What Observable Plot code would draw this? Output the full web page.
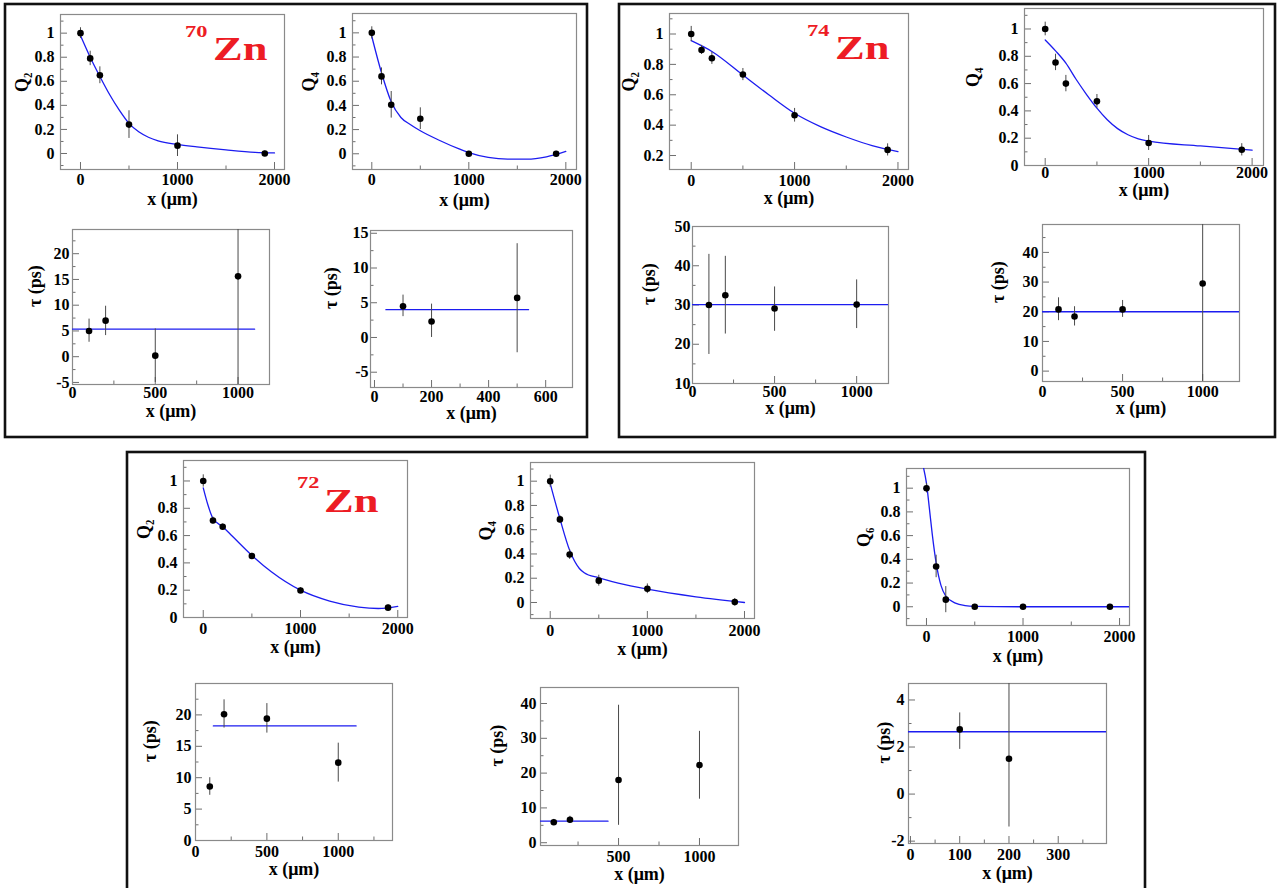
<!DOCTYPE html>
<html><head><meta charset="utf-8">
<script src="https://cdn.jsdelivr.net/npm/d3@7"></script>
<script src="https://cdn.jsdelivr.net/npm/@observablehq/plot@0.6"></script>
<style>
body{margin:0;background:#fff;width:1277px;height:888px;overflow:hidden;position:relative;font-family:"Liberation Serif",serif;}
.panel{position:absolute;}
.panel svg{font-size:16px;}
.panel svg text, #overlay text{font-family:"Liberation Serif","Times New Roman",serif !important;font-weight:bold;}
#overlay{position:absolute;left:0;top:0;pointer-events:none;}
</style></head><body>
<script>
// ---------------- data ----------------
const qX = [0, 100, 200, 500, 1000, 1900];
const tauX = [100, 200, 500, 1000];
const tauX3 = [100, 200, 500];
const tauX2 = [100, 200];

// 70Zn
const zn70_Q2 = [1.00, 0.79, 0.65, 0.24, 0.065, 0.00];
const zn70_Q2_err = [0.045, 0.06, 0.07, 0.115, 0.09, 0.02];
const zn70_Q2_fitX = [0, 100, 200, 300, 400, 500, 600, 700, 800, 1000, 1200, 1500, 1800, 2000];
const zn70_Q2_fitY = [0.98, 0.80, 0.64, 0.49, 0.36, 0.25, 0.18, 0.135, 0.105, 0.075, 0.055, 0.03, 0.01, 0.005];
const zn70_Q4 = [1.00, 0.64, 0.405, 0.29, 0.00, 0.00];
const zn70_Q4_err = [0.05, 0.07, 0.11, 0.09, 0.02, 0.02];
const zn70_Q4_fitX = [0, 100, 200, 300, 400, 500, 700, 900, 1000, 1200, 1400, 1600, 1800, 2000];
const zn70_Q4_fitY = [0.97, 0.67, 0.43, 0.30, 0.24, 0.19, 0.11, 0.04, 0.01, -0.03, -0.045, -0.045, -0.025, 0.02];
const zn70_tauQ2 = [5.0, 7.0, 0.2, 15.6];
const zn70_tauQ2_lo = [2.8, 4.1, -5.0, -6.0];
const zn70_tauQ2_hi = [7.3, 9.8, 5.4, 30.0];
const zn70_tauQ2_fitX = [0, 1100];
const zn70_tauQ2_fitY = [5.35, 5.35];
const zn70_tauQ4 = [4.5, 2.3, 5.7];
const zn70_tauQ4_lo = [3.0, 0.0, -2.2];
const zn70_tauQ4_hi = [6.1, 4.8, 13.5];
const zn70_tauQ4_fitX = [40, 540];
const zn70_tauQ4_fitY = [4.0, 4.0];

// 74Zn
const zn74_Q2 = [1.00, 0.895, 0.84, 0.733, 0.465, 0.237];
const zn74_Q2_err = [0.05, 0.03, 0.04, 0.04, 0.045, 0.04];
const zn74_Q2_fitX = [0, 200, 500, 750, 1000, 1250, 1500, 1750, 2000];
const zn74_Q2_fitY = [0.956, 0.885, 0.73, 0.60, 0.478, 0.39, 0.322, 0.265, 0.226];
const zn74_Q4 = [1.00, 0.755, 0.60, 0.47, 0.165, 0.115];
const zn74_Q4_err = [0.05, 0.06, 0.06, 0.05, 0.055, 0.045];
const zn74_Q4_fitX = [0, 100, 200, 300, 400, 500, 600, 700, 800, 900, 1000, 1500, 2000];
const zn74_Q4_fitY = [0.92, 0.84, 0.75, 0.63, 0.52, 0.42, 0.335, 0.27, 0.225, 0.195, 0.178, 0.143, 0.112];
const zn74_tauQ2 = [30.0, 32.5, 29.1, 30.1];
const zn74_tauQ2_lo = [17.4, 22.6, 23.3, 24.0];
const zn74_tauQ2_hi = [42.9, 42.4, 34.6, 36.4];
const zn74_tauQ2_fitX = [0, 1200];
const zn74_tauQ2_fitY = [30.1, 30.1];
const zn74_tauQ4 = [20.8, 18.4, 20.8, 29.5];
const zn74_tauQ4_lo = [17.0, 15.2, 18.1, -5.0];
const zn74_tauQ4_hi = [24.7, 21.7, 23.8, 55.0];
const zn74_tauQ4_fitX = [0, 1230];
const zn74_tauQ4_fitY = [20.0, 20.0];

// 72Zn
const zn72_Q2 = [1.00, 0.71, 0.665, 0.45, 0.198, 0.072];
const zn72_Q2_err = [0.045, 0.025, 0.02, 0.02, 0.02, 0.02];
const zn72_Q2_fitX = [0, 50, 100, 200, 300, 500, 700, 1000, 1300, 1600, 1800, 2000];
const zn72_Q2_fitY = [0.95, 0.82, 0.725, 0.665, 0.595, 0.455, 0.335, 0.20, 0.12, 0.076, 0.066, 0.082];
const zn72_Q4 = [1.00, 0.685, 0.395, 0.18, 0.113, 0.003];
const zn72_Q4_err = [0.05, 0.03, 0.04, 0.045, 0.04, 0.03];
const zn72_Q4_fitX = [0, 100, 200, 300, 350, 500, 700, 1000, 1500, 2000];
const zn72_Q4_fitY = [0.98, 0.69, 0.43, 0.28, 0.245, 0.203, 0.16, 0.11, 0.047, 0.0];
const zn72_Q6 = [1.00, 0.34, 0.06, 0.0, 0.0, 0.0];
const zn72_Q6_err = [0.04, 0.095, 0.11, 0.02, 0.02, 0.02];
const zn72_Q6_fitX = [-30, 0, 30, 60, 100, 150, 200, 300, 400, 500, 1000, 2150];
const zn72_Q6_fitY = [1.17, 1.04, 0.83, 0.61, 0.37, 0.18, 0.09, 0.03, 0.01, 0.004, 0.0, 0.0];
const zn72_tauQ2 = [8.6, 20.1, 19.4, 12.4];
const zn72_tauQ2_lo = [7.2, 17.9, 17.1, 9.3];
const zn72_tauQ2_hi = [10.0, 22.4, 21.8, 15.5];
const zn72_tauQ2_fitX = [125, 1125];
const zn72_tauQ2_fitY = [18.25, 18.25];
const zn72_tauQ4 = [5.9, 6.6, 18.0, 22.3];
const zn72_tauQ4_lo = [5.1, 5.6, 5.0, 12.5];
const zn72_tauQ4_hi = [6.7, 7.6, 39.5, 32.0];
const zn72_tauQ4_fitX = [0, 435];
const zn72_tauQ4_fitY = [6.2, 6.2];
const zn72_tauQ6 = [2.75, 1.5];
const zn72_tauQ6_lo = [1.9, -1.4];
const zn72_tauQ6_hi = [3.45, 5.4];
const zn72_tauQ6_fitX = [-10, 410];
const zn72_tauQ6_fitY = [2.65, 2.65];

// tick labels
const qTicksX = [0, 1000, 2000];
const qMinorX = [500, 1500];
const qTicksY = [0, 0.2, 0.4, 0.6, 0.8, 1];
const qMinorY = [-0.1, 0.1, 0.3, 0.5, 0.7, 0.9, 1.1];
const tTicksX1000 = [0, 500, 1000];
const tMinorX1000 = [250, 750, 1250];
const tTicksX600 = [0, 200, 400, 600];
const tMinorX600 = [100, 300, 500];
const tTicksX300 = [0, 100, 200, 300];
const tMinorX300 = [50, 150, 250, 350];
const tTicksY5 = [-5, 0, 5, 10, 15, 20];
const tMinorY5 = [-2.5, 2.5, 7.5, 12.5, 17.5, 22.5];
const tTicksY10 = [0, 10, 20, 30, 40, 50];
const tMinorY10 = [5, 15, 25, 35, 45];
const tTicksY2 = [-2, 0, 2, 4];
const tMinorY2 = [-1, 1, 3];

const titles = [
  {mass: "70", el: "Zn"},
  {mass: "74", el: "Zn"},
  {mass: "72", el: "Zn"}
];

// ---------------- layout ----------------
function pts(xs, ys, lo, hi) { return xs.map((x, i) => ({x, y: ys[i], lo: lo[i], hi: hi[i]})); }
function ptsErr(xs, ys, err) { return xs.map((x, i) => ({x, y: ys[i], lo: ys[i] - err[i], hi: ys[i] + err[i]})); }
function fit(xs, ys) { return xs.map((x, i) => ({x, y: ys[i]})); }

const panels = [
  {f: [60, 14, 284, 169], xd: [-206, 2103], yd: [-0.133, 1.155], xt: qTicksX, xm: qMinorX, yt: qTicksY, ym: qMinorY,
   p: ptsErr(qX, zn70_Q2, zn70_Q2_err), fit: fit(zn70_Q2_fitX, zn70_Q2_fitY), yl: "Q\u2082", yldx: -38, xldy: 30, ypad: 6, xpad: 4.5},
  {f: [352, 13, 576, 169], xd: [-199, 2110], yd: [-0.13, 1.16], xt: qTicksX, xm: qMinorX, yt: qTicksY, ym: qMinorY,
   p: ptsErr(qX, zn70_Q4, zn70_Q4_err), fit: fit(zn70_Q4_fitX, zn70_Q4_fitY), yl: "Q\u2084", yldx: -43, xldy: 31, ypad: 6, xpad: 4.5},
  {f: [72, 229, 269, 384], xd: [0, 1190], yd: [-5.4, 24.7], xt: tTicksX1000, xm: tMinorX1000, yt: tTicksY5, ym: tMinorY5,
   p: pts(tauX, zn70_tauQ2, zn70_tauQ2_lo, zn70_tauQ2_hi), fit: fit(zn70_tauQ2_fitX, zn70_tauQ2_fitY), yl: "\u03c4 (ps)", yldx: -37, xldy: 27, ypad: 3, xpad: 2},
  {f: [370, 230, 572, 387], xd: [-14, 694], yd: [-7.2, 15.4], xt: tTicksX600, xm: tMinorX600, yt: tTicksY5, ym: tMinorY5,
   p: pts(tauX3, zn70_tauQ4, zn70_tauQ4_lo, zn70_tauQ4_hi), fit: fit(zn70_tauQ4_fitX, zn70_tauQ4_fitY), yl: "\u03c4 (ps)", yldx: -39, xldy: 26, ypad: 2, xpad: 3},
  {f: [669, 13, 908, 169], xd: [-210, 2102], yd: [0.108, 1.135], xt: qTicksX, xm: qMinorX, yt: qTicksY, ym: qMinorY,
   p: ptsErr(qX, zn74_Q2, zn74_Q2_err), fit: fit(zn74_Q2_fitX, zn74_Q2_fitY), yl: "Q\u2082", yldx: -40, xldy: 29, ypad: 6, xpad: 5.5},
  {f: [1024, 8, 1263, 165], xd: [-200, 2110], yd: [0, 1.15], xt: qTicksX, xm: qMinorX, yt: qTicksY, ym: qMinorY,
   p: ptsErr(qX, zn74_Q4, zn74_Q4_err), fit: fit(zn74_Q4_fitX, zn74_Q4_fitY), yl: "Q\u2084", yldx: -51, xldy: 25, ypad: 6, xpad: 1.5},
  {f: [692, 226, 888, 383], xd: [0, 1194], yd: [10, 50], xt: tTicksX1000, xm: tMinorX1000, yt: tTicksY10, ym: tMinorY10,
   p: pts(tauX, zn74_tauQ2, zn74_tauQ2_lo, zn74_tauQ2_hi), fit: fit(zn74_tauQ2_fitX, zn74_tauQ2_fitY), yl: "\u03c4 (ps)", yldx: -43, xldy: 25, ypad: 2, xpad: 2.5},
  {f: [1042, 224, 1239, 381], xd: [0, 1230], yd: [-3.5, 49.4], xt: tTicksX1000, xm: tMinorX1000, yt: tTicksY10, ym: tMinorY10,
   p: pts(tauX, zn74_tauQ4, zn74_tauQ4_lo, zn74_tauQ4_hi), fit: fit(zn74_tauQ4_fitX, zn74_tauQ4_fitY), yl: "\u03c4 (ps)", yldx: -44, xldy: 27, ypad: 4, xpad: 4},
  {f: [183, 460, 407, 617], xd: [-203, 2100], yd: [0, 1.15], xt: qTicksX, xm: qMinorX, yt: qTicksY, ym: qMinorY,
   p: ptsErr(qX, zn72_Q2, zn72_Q2_err), fit: fit(zn72_Q2_fitX, zn72_Q2_fitY), yl: "Q\u2082", yldx: -39, xldy: 30, ypad: 6, xpad: 5.5},
  {f: [530, 462, 754, 618], xd: [-203, 2103], yd: [-0.132, 1.154], xt: qTicksX, xm: qMinorX, yt: qTicksY, ym: qMinorY,
   p: ptsErr(qX, zn72_Q4, zn72_Q4_err), fit: fit(zn72_Q4_fitX, zn72_Q4_fitY), yl: "Q\u2084", yldx: -44, xldy: 31, ypad: 6, xpad: 6},
  {f: [906, 468, 1129, 625], xd: [-207, 2103], yd: [-0.158, 1.166], xt: qTicksX, xm: qMinorX, yt: qTicksY, ym: qMinorY,
   p: ptsErr(qX, zn72_Q6, zn72_Q6_err), fit: fit(zn72_Q6_fitX, zn72_Q6_fitY), yl: "Q\u2086", yldx: -42, xldy: 31, ypad: 6, xpad: 5.5},
  {f: [195, 683, 392, 840], xd: [0, 1380], yd: [0, 25], xt: tTicksX1000, xm: tMinorX1000, yt: tTicksY5, ym: tMinorY5,
   p: pts(tauX, zn72_tauQ2, zn72_tauQ2_lo, zn72_tauQ2_hi), fit: fit(zn72_tauQ2_fitX, zn72_tauQ2_fitY), yl: "\u03c4 (ps)", yldx: -45, xldy: 29, ypad: 4, xpad: 5.5},
  {f: [540, 687, 738, 845], xd: [18, 1241], yd: [-0.8, 44.6], xt: tTicksX1000, xm: tMinorX1000, yt: tTicksY10, ym: tMinorY10,
   p: pts(tauX, zn72_tauQ4, zn72_tauQ4_lo, zn72_tauQ4_hi), fit: fit(zn72_tauQ4_fitX, zn72_tauQ4_fitY), yl: "\u03c4 (ps)", yldx: -43, xldy: 29, ypad: 4, xpad: 5.5},
  {f: [908, 683, 1106, 843], xd: [-4, 398], yd: [-2.1, 4.7], xt: tTicksX300, xm: tMinorX300, yt: tTicksY2, ym: tMinorY2,
   p: pts(tauX2, zn72_tauQ6, zn72_tauQ6_lo, zn72_tauQ6_hi), fit: fit(zn72_tauQ6_fitX, zn72_tauQ6_fitY), yl: "\u03c4 (ps)", yldx: -24, xldy: 30, ypad: 4, xpad: 5.5}
];

const mL = 60, mR = 8, mT = 8, mB = 46;

for (const c of panels) {
  const [L, T, R, B] = c.f;
  const fw = R - L, fh = B - T;
  const kx = (c.xd[1] - c.xd[0]) / fw, ky = (c.yd[1] - c.yd[0]) / fh;
  const inX = v => v >= c.xd[0] && v <= c.xd[1];
  const inY = v => v >= c.yd[0] && v <= c.yd[1];
  const xt = c.xt.filter(inX), xm = c.xm.filter(inX), yt = c.yt.filter(inY), ym = c.ym.filter(inY);
  const svg = Plot.plot({
    width: fw + mL + mR, height: fh + mT + mB,
    marginLeft: mL, marginRight: mR, marginTop: mT, marginBottom: mB,
    x: {domain: c.xd}, y: {domain: c.yd},
    style: "background: transparent; font-size: 16px; color: #000; overflow: visible; max-width: none;",
    marks: [
      Plot.ruleX(xt, {x: d => d, y1: c.yd[0], y2: c.yd[0] + 7 * ky, stroke: "#6e6e6e", strokeWidth: 1}),
      Plot.ruleX(xm, {x: d => d, y1: c.yd[0], y2: c.yd[0] + 3.5 * ky, stroke: "#6e6e6e", strokeWidth: 1}),
      Plot.ruleY(yt, {y: d => d, x1: c.xd[0], x2: c.xd[0] + 7 * kx, stroke: "#6e6e6e", strokeWidth: 1}),
      Plot.ruleY(ym, {y: d => d, x1: c.xd[0], x2: c.xd[0] + 3.5 * kx, stroke: "#6e6e6e", strokeWidth: 1}),
      Plot.frame({stroke: "#8a8a8a", strokeWidth: 1.2}),
      Plot.axisX({ticks: xt, tickSize: 0, tickPadding: c.xpad, tickFormat: d => String(d), label: null, fontSize: 16}),
      Plot.axisY({ticks: yt, tickSize: 0, tickPadding: c.ypad, tickFormat: d => String(d), label: null, fontSize: 16}),
      Plot.line(c.fit, {x: "x", y: "y", stroke: "#1c1cf0", strokeWidth: 1.3, curve: "monotone-x", clip: true}),
      Plot.ruleX(c.p, {x: "x", y1: "lo", y2: "hi", stroke: "#4a4a4a", strokeWidth: 1, clip: true}),
      Plot.dot(c.p, {x: "x", y: "y", r: 3.3, fill: "#000", stroke: null}),
      Plot.text(["x (\u03bcm)"], {frameAnchor: "bottom", dy: c.xldy, lineAnchor: "middle", fontSize: 18}),
      Plot.text([c.yl], {frameAnchor: "left", dx: c.yldx, rotate: -90, lineAnchor: "middle", fontSize: 18})
    ]
  });
  const div = document.createElement("div");
  div.className = "panel";
  div.style.left = (L - mL) + "px";
  div.style.top = (T - mT) + "px";
  div.appendChild(svg);
  document.body.appendChild(div);
}

// overlay: group boxes and nucleus labels
const ov = d3.select(document.body).append("svg").attr("id", "overlay")
  .attr("width", 1277).attr("height", 888);
const boxes = [[5, 4, 587, 437], [619, 4, 1275, 437], [127, 452, 1145, 900]];
ov.selectAll("rect").data(boxes).join("rect")
  .attr("x", d => d[0]).attr("y", d => d[1])
  .attr("width", d => d[2] - d[0]).attr("height", d => d[3] - d[1])
  .attr("fill", "none").attr("stroke", "#111").attr("stroke-width", 2.6);
const titlePos = [
  {mx: 185, my: 37, ex: 213, ey: 60},
  {mx: 807, my: 36, ex: 835, ey: 59},
  {mx: 297, my: 488, ex: 324, ey: 512}
];
titles.forEach((t, i) => {
  const p = titlePos[i];
  const g = ov.append("g").attr("fill", "#ed1c24");
  g.append("text").attr("transform", `translate(${p.mx},${p.my}) scale(1.4,1)`).attr("font-size", 16).text(t.mass);
  g.append("text").attr("transform", `translate(${p.ex},${p.ey}) scale(1.35,1)`).attr("font-size", 33).text(t.el);
});
</script>
</body></html>
